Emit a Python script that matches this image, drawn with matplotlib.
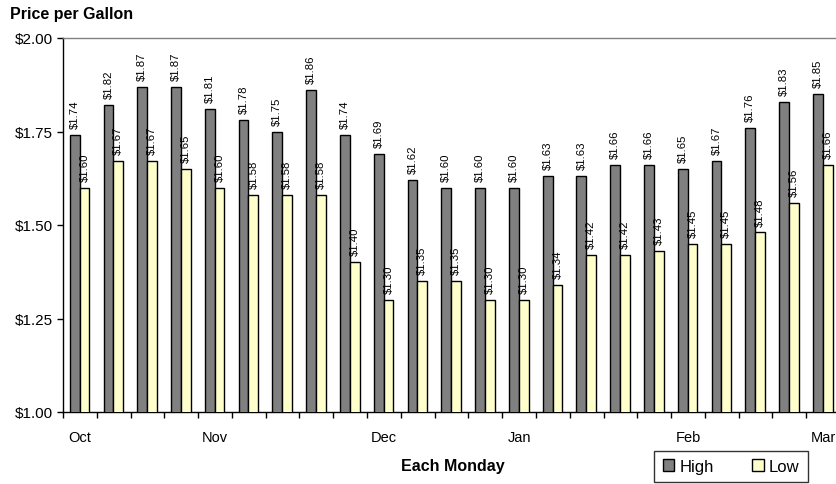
import matplotlib
matplotlib.use("Agg")
import matplotlib.pyplot as plt
import numpy as np
from matplotlib.patches import Patch

plt.rcParams['font.family'] = ['Liberation Sans', 'DejaVu Sans']

high = [1.74, 1.82, 1.87, 1.87, 1.81, 1.78, 1.75, 1.86, 1.74, 1.69, 1.62, 1.60,
        1.60, 1.60, 1.63, 1.63, 1.66, 1.66, 1.65, 1.67, 1.76, 1.83, 1.85]
low = [1.60, 1.67, 1.67, 1.65, 1.60, 1.58, 1.58, 1.58, 1.40, 1.30, 1.35, 1.35,
       1.30, 1.30, 1.34, 1.42, 1.42, 1.43, 1.45, 1.45, 1.48, 1.56, 1.66]
month_labels = ["Oct", "", "", "", "Nov", "", "", "", "", "Dec", "", "", "",
                "Jan", "", "", "", "", "Feb", "", "", "", "Mar"]
y_ticks = [1.00, 1.25, 1.50, 1.75, 2.00]
series_names = ["High", "Low"]

W, H = 836, 485
fig = plt.figure(figsize=(W / 100, H / 100), dpi=100)
left, right, top, bottom = 63, 840, 39, 413
ax = fig.add_axes([left / W, 1 - bottom / H, (right - left) / W, (bottom - top) / H])

n = len(high)
x = np.arange(n)
bw = 0.29
c_high = "#808080"
c_low = "#FFFFCC"
ax.bar(x - 0.155, high, width=bw, color=c_high, edgecolor="black", linewidth=1.0, zorder=3)
ax.bar(x + 0.135, low, width=bw, color=c_low, edgecolor="black", linewidth=1.0, zorder=3)

for xi, v in zip(x - 0.155, high):
    ax.annotate(f"${v:.2f}", (xi, v), xytext=(0, 5), textcoords="offset points",
                rotation=90, ha="center", va="bottom", fontsize=8.2)
for xi, v in zip(x + 0.135, low):
    ax.annotate(f"${v:.2f}", (xi, v), xytext=(0, 5), textcoords="offset points",
                rotation=90, ha="center", va="bottom", fontsize=8.2)

ax.set_xlim(-0.5, n - 0.5)
ax.set_ylim(1.0, 2.0)
ax.set_yticks(y_ticks)
ax.set_yticklabels([f"${t:.2f}" for t in y_ticks], fontsize=11)
ax.set_xticks(x)
ax.set_xticklabels(month_labels, fontsize=10.5)
ax.set_xticks(np.arange(n + 1) - 0.5, minor=True)
ax.tick_params(axis="x", which="major", length=0, pad=13)
ax.tick_params(axis="x", which="minor", length=4, width=1, direction="out")
ax.tick_params(axis="y", length=4, width=1, direction="out", pad=3)

for s in ["left", "bottom"]:
    ax.spines[s].set_color("black")
    ax.spines[s].set_linewidth(1.0)
ax.spines["top"].set_color("#808080")
ax.spines["top"].set_linewidth(1.0)
ax.spines["right"].set_visible(False)

fig.text(10 / W, 1 - 15 / H, "Price per Gallon", fontsize=11.5, fontweight="bold",
         ha="left", va="center")
fig.text(453 / W, 1 - 467 / H, "Each Monday", fontsize=11.5, fontweight="bold",
         ha="center", va="center")

handles = [Patch(facecolor=c_high, edgecolor="black", linewidth=1.0),
           Patch(facecolor=c_low, edgecolor="black", linewidth=1.0)]
leg = fig.legend(handles, series_names, loc="center", ncol=2,
                 bbox_to_anchor=(731 / W, 1 - 467.5 / H), fontsize=12,
                 frameon=True, fancybox=False, edgecolor="black",
                 handlelength=0.7, handleheight=0.7, handletextpad=0.3,
                 columnspacing=2.3, borderpad=0.5, borderaxespad=0)
leg.get_frame().set_linewidth(1.0)

fig.savefig("out.png", dpi=100)
